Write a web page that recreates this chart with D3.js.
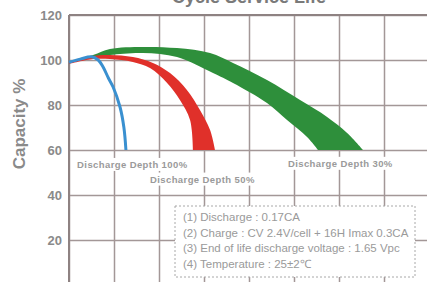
<!DOCTYPE html>
<html>
<head>
<meta charset="utf-8">
<script src="https://cdn.jsdelivr.net/npm/d3@7"></script>
<style>
  body { margin: 0; background: #fff; }
  svg { display: block; font-family: "Liberation Sans", Arial, sans-serif; }
</style>
</head>
<body>
<div id="chart"></div>
<script>
// y ticks and x grid (cycles)
const yTicks = [20, 40, 60, 80, 100, 120];
const xGrid = [0, 200, 400, 600, 800, 1000, 1200, 1400, 1600];

// [cycles, capacity %]
const blueLine = [[0, 99], [50, 100.4], [100, 101.4], [130, 100], [151, 97], [175, 92], [196, 88], [227, 79], [244, 70], [253, 60]];
const redUpper = [[0, 99.1], [107, 101.8], [182, 102.2], [284, 101.3], [373, 98.7], [449, 94.2], [524, 86.7], [582, 77.8], [627, 68.9], [649, 60]];
const redLower = [[0, 98.2], [107, 100.4], [182, 100.4], [284, 99.1], [360, 96.4], [436, 89.8], [493, 82.2], [538, 73.3], [551, 60]];
const greenUpper = [[0, 99.1], [107, 102.2], [182, 104.9], [329, 105.8], [480, 105.3], [627, 103.1], [729, 98.7], [880, 91.1], [1027, 82.2], [1147, 74.7], [1236, 67.6], [1307, 60]];
const greenLower = [[0, 98.7], [107, 100.9], [182, 102.2], [329, 103.1], [480, 101.3], [640, 94.2], [729, 89.8], [880, 80.9], [969, 73.3], [1058, 65.8], [1107, 60]];

const depthLabels = [
  { text: 'Discharge Depth 100%', x: 36, y: 53.5 },
  { text: 'Discharge Depth 50%', x: 360, y: 47 },
  { text: 'Discharge Depth 30%', x: 973, y: 54 }
];
const notes = [
  '(1) Discharge : 0.17CA',
  '(2) Charge : CV 2.4V/cell + 16H Imax 0.3CA',
  '(3) End of life discharge voltage : 1.65 Vpc',
  '(4) Temperature : 25±2℃'
];

const W = 427, H = 282;
const mLeft = 69, mTop = 15;

const svg = d3.select('#chart').append('svg')
  .attr('width', W).attr('height', H);

const x = d3.scaleLinear().domain([0, 1600]).range([mLeft, mLeft + 360]);
const y = d3.scaleLinear().domain([0, 120]).range([mTop + 270, mTop]);

const gridColor = '#a39797';

// grid
svg.append('g')
  .attr('transform', `translate(0,${H})`)
  .call(d3.axisTop(x).tickValues(xGrid).tickSize(H - mTop).tickFormat(''))
  .call(g => g.select('.domain').remove())
  .call(g => g.selectAll('line').attr('stroke', gridColor).attr('stroke-width', 1.5));

svg.append('g')
  .attr('transform', `translate(${mLeft},0)`)
  .call(d3.axisRight(y).tickValues(yTicks).tickSize(W - mLeft).tickFormat(''))
  .call(g => g.select('.domain').remove())
  .call(g => g.selectAll('line').attr('stroke', gridColor).attr('stroke-width', 1.5));

// frame
svg.append('line').attr('x1', mLeft).attr('x2', mLeft).attr('y1', mTop).attr('y2', H)
  .attr('stroke', '#8e8282').attr('stroke-width', 2);
svg.append('line').attr('x1', mLeft).attr('x2', W).attr('y1', mTop).attr('y2', mTop)
  .attr('stroke', '#8e8282').attr('stroke-width', 2);

// y tick labels
svg.append('g')
  .attr('transform', `translate(${mLeft},0)`)
  .call(d3.axisLeft(y).tickValues(yTicks).tickSize(0).tickPadding(7))
  .call(g => g.select('.domain').remove())
  .call(g => g.selectAll('text')
    .attr('fill', '#8a8a8a')
    .attr('font-size', 13)
    .attr('font-weight', 'bold')
    .attr('font-family', '"Liberation Sans", Arial, sans-serif'));

// bands
const lineGen = d3.line().x(d => x(d[0])).y(d => y(d[1])).curve(d3.curveCatmullRom);
function band(upper, lower) {
  const a = lineGen(upper);
  const b = lineGen(lower.slice().reverse());
  return a + 'L' + b.slice(1) + 'Z';
}

svg.append('path').attr('d', band(greenUpper, greenLower)).attr('fill', '#2e8f3b');
svg.append('path').attr('d', band(redUpper, redLower)).attr('fill', '#e0302a');
svg.append('path').attr('d', lineGen(blueLine))
  .attr('fill', 'none').attr('stroke', '#3a90d0').attr('stroke-width', 3);

// discharge depth labels
depthLabels.forEach(l => {
  const g = svg.append('g');
  const t = g.append('text')
    .attr('x', x(l.x)).attr('y', y(l.y))
    .attr('dy', '0.35em')
    .attr('font-size', 9.5).attr('font-weight', 'bold')
    .attr('letter-spacing', 0.4)
    .attr('fill', '#9a9a9a')
    .text(l.text);
  const bb = t.node().getBBox();
  g.insert('rect', 'text')
    .attr('x', bb.x - 2).attr('y', bb.y - 1)
    .attr('width', bb.width + 4).attr('height', bb.height + 2)
    .attr('fill', '#fff');
});

// notes box
const nb = svg.append('g');
nb.append('rect')
  .attr('x', 175).attr('y', 206).attr('width', 240).attr('height', 71)
  .attr('fill', '#fff').attr('stroke', '#a8a8a8')
  .attr('stroke-width', 1).attr('stroke-dasharray', '2,2');
nb.selectAll('text').data(notes).join('text')
  .attr('x', 183).attr('y', (d, i) => 217 + i * 15.7)
  .attr('dy', '0.35em')
  .attr('font-size', 11.5).attr('fill', '#9a9a9a')
  .text(d => d);

// title (cut off at top)
svg.append('text')
  .attr('x', 249).attr('y', 3)
  .attr('text-anchor', 'middle')
  .attr('font-size', 18).attr('font-weight', 'bold')
  .attr('fill', '#7a7a7a')
  .text('Cycle Service Life');

// y axis title
svg.append('text')
  .attr('transform', 'translate(25,124) rotate(-90)')
  .attr('text-anchor', 'middle')
  .attr('font-size', 17).attr('font-weight', 'bold')
  .attr('fill', '#8a8a8a')
  .text('Capacity %');
</script>
</body>
</html>
